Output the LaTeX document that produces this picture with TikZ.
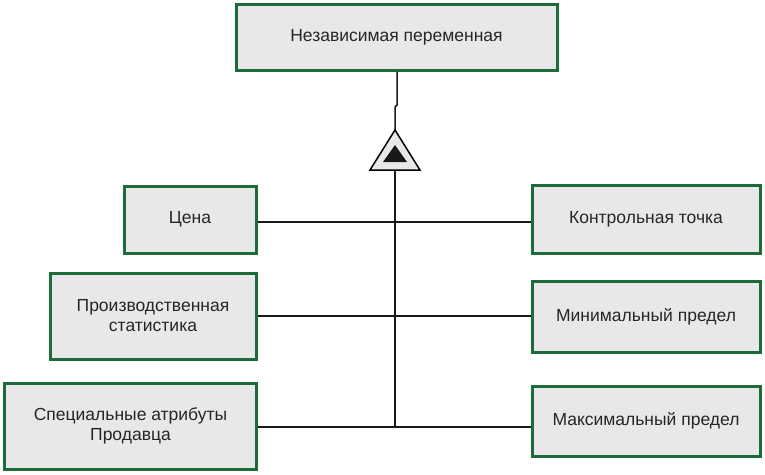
\documentclass[tikz,border=0pt]{standalone}
\usepackage{fontspec}
\setmainfont{Liberation Sans}
\begin{document}
\begin{tikzpicture}[x=1pt,y=-1pt,
  box/.style={draw=boxgreen,line width=3pt,fill=boxfill,inner sep=0pt,font=\fontsize{17.5}{20}\selectfont,align=center,text=black!85},
  conn/.style={draw=black!90,line width=1.5pt}]
\definecolor{boxgreen}{HTML}{1D6B3A}
\definecolor{boxfill}{HTML}{E8E8E8}
\useasboundingbox (0,0) rectangle (765,474);
\node[box,minimum width=321pt,minimum height=66pt] (top) at (396.5,37) {Независимая переменная};
\node[box,minimum width=132pt,minimum height=67pt] (cena) at (190,219.5) {Цена};
\node[box,minimum width=206pt,minimum height=86pt] (stat) at (153,316) {Производственная\\статистика};
\node[box,minimum width=252pt,minimum height=86pt] (spec) at (130.5,426) {Специальные атрибуты\\Продавца};
\node[box,minimum width=228pt,minimum height=68pt] (kt) at (646,219) {Контрольная точка};
\node[box,minimum width=228pt,minimum height=71pt] (min) at (646,316.5) {Минимальный предел};
\node[box,minimum width=228pt,minimum height=70pt] (max) at (646,421) {Максимальный предел};
\coordinate (apex) at (395,130);
\coordinate (bl) at (370,170);
\coordinate (br) at (420,170);
\coordinate (bot) at (395,427);
\coordinate (j1) at (397,105);
\coordinate (j2) at (395,107);
\coordinate (h1) at (395,222);
\draw[conn] (top.south -| j1) -- (j1) -- (j2) -- (apex);
\draw[line width=1.5pt,fill=boxfill,line join=miter] (apex) -- (bl) -- (br) -- cycle;
\fill[black!90] (395,145) -- (383,162) -- (407,162) -- cycle;
\draw[conn] (395,170) -- (bot);
\draw[conn] (cena.east |- h1) -- (h1 -| kt.west);
\draw[conn] (stat.east) -- (stat.east -| min.west);
\draw[conn] (spec.east |- bot) -- (bot -| max.west);
\end{tikzpicture}
\end{document}
